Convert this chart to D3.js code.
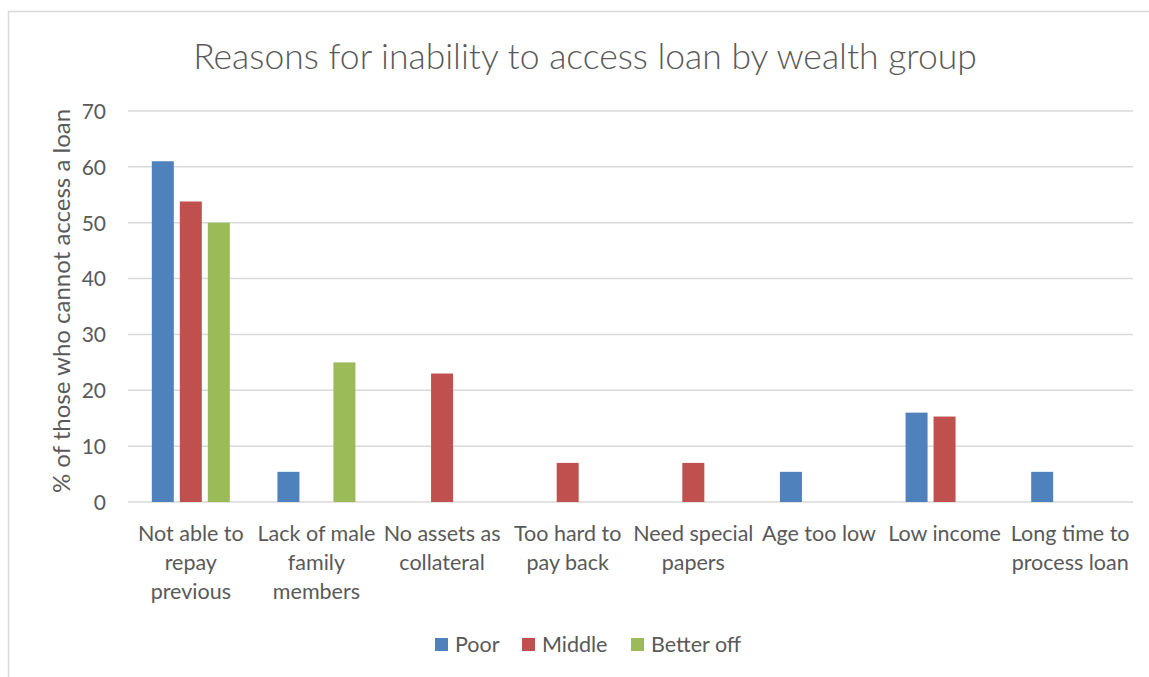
<!DOCTYPE html>
<html>
<head>
<meta charset="utf-8">
<script src="https://cdn.jsdelivr.net/npm/d3@7"></script>
<style>
  html, body { margin: 0; padding: 0; background: #fff; }
  svg { display: block; font-family: Lato, "Open Sans", sans-serif; }
</style>
</head>
<body>
<svg id="chart" width="1149" height="677"></svg>
<script>
// Categories (line breaks mark how each axis label wraps)
const categories = [
  "Not able to\nrepay\nprevious",
  "Lack of male\nfamily\nmembers",
  "No assets as\ncollateral",
  "Too hard to\npay back",
  "Need special\npapers",
  "Age too low",
  "Low income",
  "Long time to\nprocess loan"
];
const seriesNames = ["Poor", "Middle", "Better off"];
const poor     = [61, 5.4, 0, 0, 0, 5.4, 16, 5.4];
const middle   = [53.8, 0, 23, 7, 7, 0, 15.3, 0];
const betterOff = [50, 25, 0, 0, 0, 0, 0, 0];
const yTicks = [0, 10, 20, 30, 40, 50, 60, 70];
const colors = ["#4f81bd", "#c0504d", "#9bbb59"];

const seriesValues = [poor, middle, betterOff];
const svg = d3.select("#chart");

// Chart frame
svg.append("rect")
  .attr("x", 8.5).attr("y", 11.5)
  .attr("width", 1160).attr("height", 700)
  .attr("fill", "#fff").attr("stroke", "#d9d9d9").attr("stroke-width", 1.5);

const y = d3.scaleLinear().domain([0, 70]).range([502, 111]);
const x = d3.scaleBand().domain(d3.range(categories.length)).range([128, 1133]).padding(0);
const groupWidth = 78;
const xs = d3.scaleBand().domain(seriesNames).range([0, groupWidth]).paddingInner(6 / 28).paddingOuter(0);

// Gridlines
svg.append("g")
  .selectAll("line")
  .data(yTicks)
  .join("line")
  .attr("x1", 128).attr("x2", 1133)
  .attr("y1", d => y(d)).attr("y2", d => y(d))
  .attr("stroke", "#d9d9d9").attr("stroke-width", 1.5);

// Y axis tick labels
const yAxis = d3.axisLeft(y).tickValues(yTicks).tickSize(0).tickPadding(0);
const yg = svg.append("g").attr("transform", "translate(106,0)").call(yAxis);
yg.select(".domain").remove();
yg.selectAll("text")
  .attr("fill", "#595959")
  .style("font-size", "21px")
  .style("font-family", "Lato, sans-serif")
  .attr("dy", "0.35em");

// Bars
const rows = [];
seriesNames.forEach((s, si) => {
  seriesValues[si].forEach((v, ci) => {
    if (v > 0) rows.push({ s, si, ci, v });
  });
});
svg.append("g")
  .selectAll("rect")
  .data(rows)
  .join("rect")
  .attr("x", d => x(d.ci) + (x.bandwidth() - groupWidth) / 2 + xs(d.s))
  .attr("width", xs.bandwidth())
  .attr("y", d => y(d.v))
  .attr("height", d => y(0) - y(d.v))
  .attr("fill", d => colors[d.si]);

// Category labels
const xl = svg.append("g");
categories.forEach((c, i) => {
  const t = xl.append("text")
    .attr("text-anchor", "middle")
    .attr("fill", "#595959")
    .style("font-size", "21.5px");
  c.split("\n").forEach((line, li) => {
    t.append("tspan")
      .attr("x", x(i) + x.bandwidth() / 2)
      .attr("y", 541 + li * 29)
      .text(line);
  });
});

// Y axis title
svg.append("text")
  .attr("transform", "translate(70,301) rotate(-90)")
  .attr("text-anchor", "middle")
  .attr("fill", "#595959")
  .style("font-size", "24px")
  .text("% of those who cannot access a loan");

// Chart title
svg.append("text")
  .attr("x", 585).attr("y", 69)
  .attr("text-anchor", "middle")
  .attr("fill", "#595959")
  .style("font-size", "35.5px")
  .style("font-weight", 300)
  .text("Reasons for inability to access loan by wealth group");

// Legend
const legendX = [435, 522, 631];
const lg = svg.append("g");
seriesNames.forEach((s, i) => {
  lg.append("rect")
    .attr("x", legendX[i]).attr("y", 638)
    .attr("width", 13).attr("height", 13)
    .attr("fill", colors[i]);
  lg.append("text")
    .attr("x", legendX[i] + 20).attr("y", 652)
    .attr("fill", "#595959")
    .style("font-size", "21.5px")
    .text(s);
});
</script>
</body>
</html>
